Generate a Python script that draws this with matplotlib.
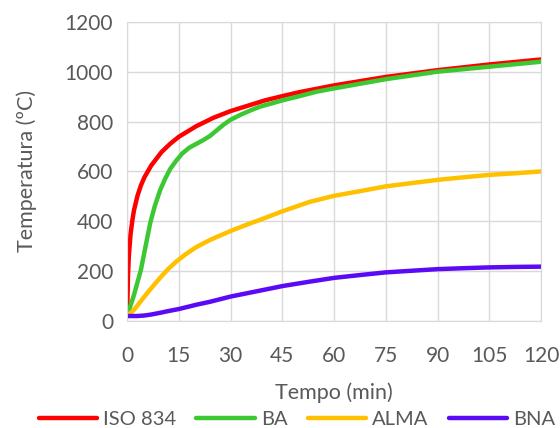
import numpy as np
import matplotlib.pyplot as plt

plt.rcParams['font.family'] = ['Lato', 'DejaVu Sans']

# (minutes, degrees C)
t_iso = [0, 0.25, 0.5, 1, 1.5, 2, 3, 4, 5, 7, 10, 12.5, 15, 20, 25, 30, 40, 45, 50, 60, 75, 90, 105, 120]
iso834 = [20, 180, 260, 349, 402, 445, 502, 544, 576, 624, 678, 711, 739, 781, 815, 842, 885, 902, 918, 945, 979, 1006, 1029, 1049]

t_ba = [0, 2, 4, 5.5, 6.7, 8, 9.6, 11, 12.5, 14.4, 16, 18, 20, 22, 24, 26, 28, 30, 33, 36, 38.6, 42, 45, 50, 55, 60, 75, 90, 105, 120]
ba = [20, 105, 205, 310, 393, 460, 526, 570, 610, 646, 672, 695, 710, 725, 742, 765, 788, 807, 828, 846, 860, 873, 885, 902, 920, 933, 970, 1000, 1020, 1040]

t_alma = [0, 2, 4, 6, 8, 10, 12, 14.4, 17, 20, 24, 30, 35, 38.6, 45, 53, 60, 68, 75, 83, 90, 98, 105, 113, 120]
alma = [20, 45, 80, 115, 148, 180, 210, 240, 268, 296, 325, 361, 388, 406, 440, 478, 502, 522, 540, 554, 566, 577, 586, 593, 600]

t_bna = [0, 3, 5, 7, 9.6, 12, 15, 20, 24, 30, 38.6, 45, 53, 60, 68, 75, 83, 90, 98, 105, 113, 120]
bna = [20, 20, 22, 26, 33, 40, 48, 65, 77, 98, 122, 140, 158, 173, 185, 195, 202, 208, 212, 215, 217, 218]

series = [
    ('ISO 834', t_iso, iso834, '#FF0000'),
    ('BA', t_ba, ba, '#3CC832'),
    ('ALMA', t_alma, alma, '#FFC000'),
    ('BNA', t_bna, bna, '#5B0AF5'),
]

fig = plt.figure(figsize=(5.6, 4.28), dpi=100)
ax = fig.add_axes([0.227, 0.25, 0.739, 0.699])

for name, t, y, c in series:
    ax.plot(t, y, color=c, lw=3.2, label=name, solid_capstyle='round',
            solid_joinstyle='round')

ax.set_xlim(0, 120)
ax.set_ylim(0, 1200)
ax.set_xticks(np.arange(0, 121, 15))
ax.set_yticks(np.arange(0, 1201, 200))
ax.grid(True, color='#D9D9D9', lw=1)
ax.set_axisbelow(True)
for s in ax.spines.values():
    s.set_color('#D9D9D9')
ax.tick_params(length=0, labelsize=15, colors='#595959')
ax.tick_params(axis='x', pad=18)
ax.tick_params(axis='y', pad=10)
ax.set_xlabel('Tempo (min)', fontsize=15.5, color='#595959', labelpad=12)
ax.set_ylabel('Temperatura (ºC)', fontsize=15.5, color='#595959', labelpad=20)

fig.legend(loc='center', bbox_to_anchor=(0.53, 0.02), ncol=4, frameon=False,
           fontsize=14.5, handlelength=2.9, columnspacing=1.0, handletextpad=0.3,
           labelcolor='#595959', borderpad=0)

fig.savefig('out.png', dpi=100)
